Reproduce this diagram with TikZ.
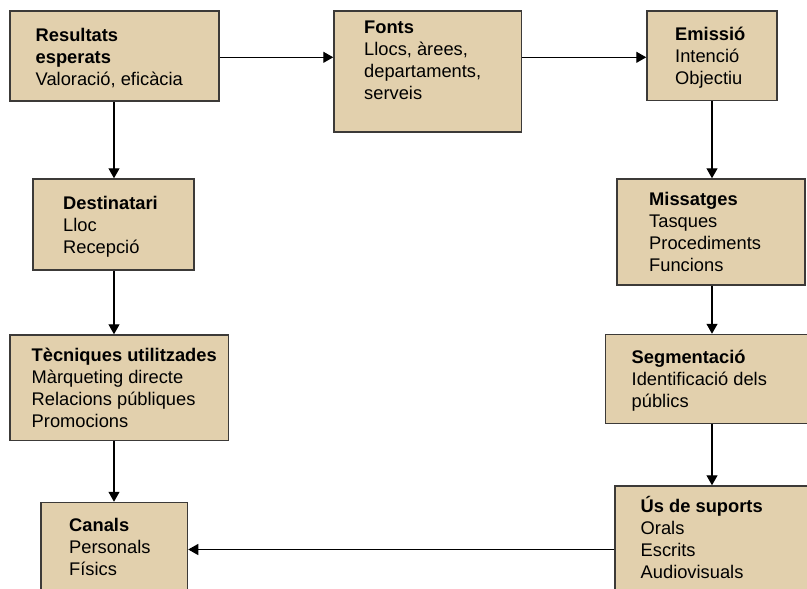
\documentclass[tikz,border=0pt]{standalone}
\usepackage{fontspec}
\setmainfont{Liberation Sans}
\usetikzlibrary{arrows.meta}
\definecolor{boxfill}{RGB}{226,208,173}
\definecolor{boxline}{RGB}{60,58,56}
\tikzset{
  card/.style={draw=boxline, line width=1.5pt, fill=boxfill, rectangle, inner sep=0pt},
  label/.style={anchor=north west, align=left, inner sep=0pt, font=\fontsize{18.3}{22}\selectfont},
  arr/.style={draw=black, line width=1.3pt, -{Triangle[length=10pt,width=11pt]}}
}
\newcommand{\fl}{\rule{0pt}{17pt}}
\newcommand{\bx}[5]{% name, x1, y1, x2, y2
  \node[card, minimum width={(#4-#2)*1pt}, minimum height={(#5-#3)*1pt}] (#1) at ({(#2+#4)/2},{(#3+#5)/2}) {};}
\begin{document}
\begin{tikzpicture}[x=1pt,y=-1pt]
\useasboundingbox (0,0) rectangle (807,589);
\clip (0,0) rectangle (807,589);
\fill[white] (0,0) rectangle (807,589);
% boxes
\bx{res}{10}{11}{219}{101}
\bx{fon}{334}{11}{521.5}{132}
\bx{emi}{647}{11}{777}{100.5}
\bx{des}{33}{179}{194}{270}
\bx{mis}{617}{179}{805}{285}
\bx{tec}{10}{335}{228.5}{440.5}
\bx{seg}{605.5}{334.5}{830}{423.5}
\bx{can}{41}{502.5}{187.5}{598}
\bx{us}{615}{486}{830}{614}
% texts
\node[label] (tres) at (35.5,{41-17}) {\fl\textbf{Resultats}\\\textbf{esperats}\\Valoració, eficàcia};
\node[label] (tfon) at (364,{33-17}) {\fl\textbf{Fonts}\\Llocs, àrees,\\departaments,\\serveis};
\node[label] (temi) at (675,{40-17}) {\fl\textbf{Emissió}\\Intenció\\Objectiu};
\node[label] (tdes) at (63,{209-17}) {\fl\textbf{Destinatari}\\Lloc\\Recepció};
\node[label] (tmis) at (649,{205-17}) {\fl\textbf{Missatges}\\Tasques\\Procediments\\Funcions};
\node[label] (ttec) at (31.5,{361-17}) {\fl\textbf{Tècniques utilitzades}\\Màrqueting directe\\Relacions públiques\\Promocions};
\node[label] (tseg) at (631.5,{363.5-17}) {\fl\textbf{Segmentació}\\Identificació dels\\públics};
\node[label] (tcan) at (69,{531.5-17}) {\fl\textbf{Canals}\\Personals\\Físics};
\node[label] (tus) at (640.5,{512-17}) {\fl\textbf{Ús de suports}\\Orals\\Escrits\\Audiovisuals};
% connectors
\coordinate (r1) at (219,57.3);
\draw[arr] (res.east |- r1) -- (fon.west |- r1);
\draw[arr] (fon.east |- r1) -- (emi.west |- r1);
\coordinate (cl) at (114,0);
\coordinate (cr) at (712,0);
\draw[arr] (res.south -| cl) -- (des.north -| cl);
\draw[arr] (des.south -| cl) -- (tec.north -| cl);
\draw[arr] (tec.south -| cl) -- (can.north -| cl);
\draw[arr] (emi.south -| cr) -- (mis.north -| cr);
\draw[arr] (mis.south -| cr) -- (seg.north -| cr);
\draw[arr] (seg.south -| cr) -- (us.north -| cr);
\coordinate (r2) at (0,549.5);
\draw[arr] (us.west |- r2) -- (can.east |- r2);
\end{tikzpicture}
\end{document}
